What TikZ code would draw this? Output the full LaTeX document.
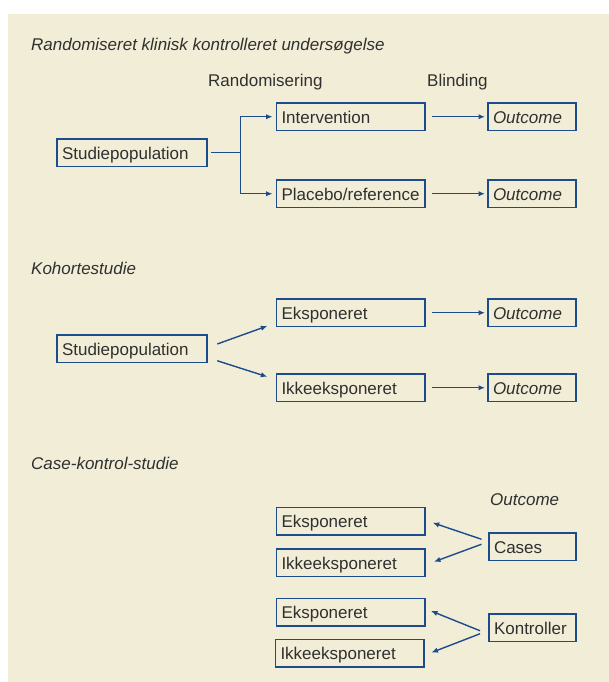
\documentclass[tikz,border=0pt]{standalone}
\usepackage{fontspec}
\setmainfont{Liberation Sans}
\usetikzlibrary{arrows.meta,calc}
\definecolor{bgc}{HTML}{F2EDD6}
\definecolor{bl}{HTML}{1C4C8C}
\definecolor{tx}{HTML}{303030}
\begin{document}
\begin{tikzpicture}[x=1pt,y=-1pt,
  every node/.style={text=tx, font=\fontsize{17}{20}\selectfont},
  box/.style={draw=bl, line width=1.5pt, anchor=north west, outer sep=0pt,
    minimum height=27.5pt, inner xsep=5pt, inner ysep=0pt, align=left,
    text height=14pt, text depth=0.8pt},
  wbox/.style={box, text width=138.5pt},
  sbox/.style={box, text width=140pt},
  obox/.style={box, text width=78pt, font=\fontsize{17}{20}\selectfont\itshape},
  cbox/.style={box, text width=77pt},
  lbl/.style={anchor=base west, inner sep=0pt},
  conn/.style={draw=bl, line width=1.4pt},
  arr/.style={conn, -{Latex[length=6.5pt,width=5.5pt]}},
]
\fill[white] (0,0) rectangle (609,682);
\fill[bgc] (8,14) rectangle (609,682);
\useasboundingbox (0,0) rectangle (609,682);

% Section 1
\node[lbl] (t1) at (31,51) {\itshape Randomiseret klinisk kontrolleret undersøgelse};
\node[lbl] (rnd) at (208,87) {Randomisering};
\node[lbl] (bld) at (427,87) {Blinding};
\node[sbox] (sp1) at (57,139) {Studiepopulation};
\node[wbox] (int) at (276.5,103) {Intervention};
\node[obox] (out1) at (488,103) {Outcome};
\node[wbox] (plc) at (276.5,180) {Placebo/reference};
\node[obox] (out2) at (488,180) {Outcome};
\coordinate (j1) at ($(sp1.east)+(33.7,0)$);
\draw[conn] ($(sp1.east)+(4,0)$) -- (j1);
\draw[arr, shorten >=4pt] (j1) |- (int.west);
\draw[arr, shorten >=4pt] (j1) |- (plc.west);
\draw[arr, shorten <=7pt, shorten >=3pt] (int.east) -- (out1.west);
\draw[arr, shorten <=7pt, shorten >=3pt] (plc.east) -- (out2.west);

% Section 2
\node[lbl] (t2) at (31,274) {\itshape Kohortestudie};
\node[sbox] (sp2) at (57,335) {Studiepopulation};
\node[wbox] (eks2) at (276.5,299) {Eksponeret};
\node[obox] (out3) at (488,299) {Outcome};
\node[wbox] (ikke2) at (276.5,374) {Ikkeeksponeret};
\node[obox] (out4) at (488,374) {Outcome};
\draw[arr] ($(sp2.east)+(10.3,-4.75)$) -- ($(eks2.west)+(-9.2,13.25)$);
\draw[arr] ($(sp2.east)+(10.3,12)$) -- ($(ikke2.west)+(-9.2,-11)$);
\draw[arr, shorten <=7pt, shorten >=3pt] (eks2.east) -- (out3.west);
\draw[arr, shorten <=7pt, shorten >=3pt] (ikke2.east) -- (out4.west);

% Section 3
\node[lbl] (t3) at (31,469.5) {\itshape Case-kontrol-studie};
\node[lbl] (ol) at (490,505) {\itshape Outcome};
\node[wbox] (eks3) at (276.5,507.5) {Eksponeret};
\node[wbox] (ikke3) at (276.5,549) {Ikkeeksponeret};
\node[cbox] (cases) at (489,533) {Cases};
\node[wbox] (eks4) at (276.5,598.5) {Eksponeret};
\node[wbox] (ikke4) at (275.5,639.5) {Ikkeeksponeret};
\node[cbox] (kon) at (489,614) {Kontroller};
\draw[arr] ($(cases.west)+(-7.5,-7.5)$) -- ($(eks3.east)+(7.7,1.5)$);
\draw[arr] ($(cases.west)+(-7.5,-2.5)$) -- ($(ikke3.east)+(9,-1)$);
\draw[arr] ($(kon.west)+(-9,3)$) -- ($(eks4.east)+(6,-1.3)$);
\draw[arr] ($(kon.west)+(-9,6)$) -- ($(ikke4.east)+(7.4,-0.7)$);
\end{tikzpicture}
\end{document}
